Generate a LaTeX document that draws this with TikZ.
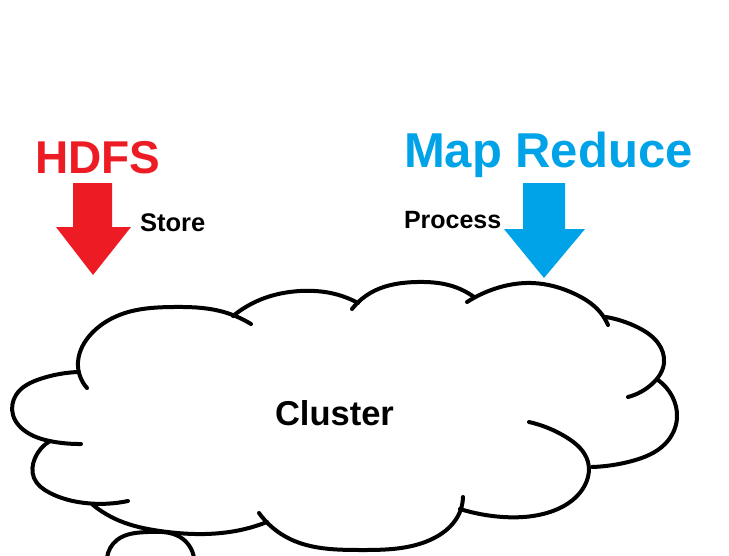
\documentclass[tikz,border=0pt]{standalone}
\usepackage{fontspec}
\setmainfont{Liberation Sans}
\usetikzlibrary{positioning,hobby}
\definecolor{hdfsred}{RGB}{237,28,36}
\definecolor{mrblue}{RGB}{0,162,232}
\tikzstyle{every node}=[font=\bfseries,inner sep=0,outer sep=0,anchor=base west]
\tikzstyle{bump}=[line width=4pt,line cap=round,use Hobby shortcut]
\newcommand{\fs}[1]{\bfseries\fontsize{#1}{#1}\selectfont}

\begin{document}
\begin{tikzpicture}[x=1pt,y=-1pt]
    \useasboundingbox (0,0) rectangle (729,555);
    % titles
    \node[hdfsred,font=\fs{46}] (hdfs) at (35,173) {HDFS};
    \node[mrblue,font=\fs{49}] (mapred) at (404,167) {Map Reduce};
    \node[font=\fs{25.5}] (store) at (140,231) {Store};
    \node[font=\fs{25}] (process) at (404,228) {Process};
    % arrows
    \fill[hdfsred] (73,183) -- (112,183) -- (112,227) -- (131,227) -- (93,275) -- (56,227) -- (73,227) -- cycle;
    \fill[mrblue] (523,183) -- (565,183) -- (565,229) -- (585,229) -- (544,278) -- (504,229) -- (523,229) -- cycle;
    % cloud
    \draw[bump] (87,388) .. (78,362) .. (92,333) .. (125,313) .. (173,307) .. (220,311) .. (251,324);
    \draw[bump] (78,372) .. (40,379) .. (16,395) .. (13,415) .. (28,433) .. (55,442) .. (81,444);
    \draw[bump] (50,441) .. (35,458) .. (34,478) .. (50,493) .. (85,503) .. (128,501);
    \draw[bump] (93,505) .. (120,521) .. (160,531) .. (205,534) .. (245,529) .. (267,522);
    \draw[bump] (233,316) .. (262,299) .. (300,291) .. (335,294) .. (358,303);
    \draw[bump] (352,309) .. (374,291) .. (417,282) .. (452,286) .. (474,297);
    \draw[bump] (467,302) .. (494,289) .. (532,283) .. (575,294) .. (600,312) .. (608,325);
    \draw[bump] (606,317) .. (637,327) .. (658,343) .. (664,363) .. (652,384) .. (628,397);
    \draw[bump] (658,380) .. (672,396) .. (677,418) .. (665,444) .. (632,461) .. (592,467);
    \draw[bump] (529,422) .. (566,437) .. (588,462) .. (582,490) .. (550,512) .. (503,517) .. (460,509);
    \draw[bump] (463,497) .. (458,516) .. (430,540) .. (360,550) .. (290,539) .. (259,513);
    \draw[bump] (107,558) .. (117,540) .. (148,532) .. (180,537) .. (194,558);
    \node[font=\fs{34.5}] (cluster) at (275,425) {Cluster};
\end{tikzpicture}
\end{document}
